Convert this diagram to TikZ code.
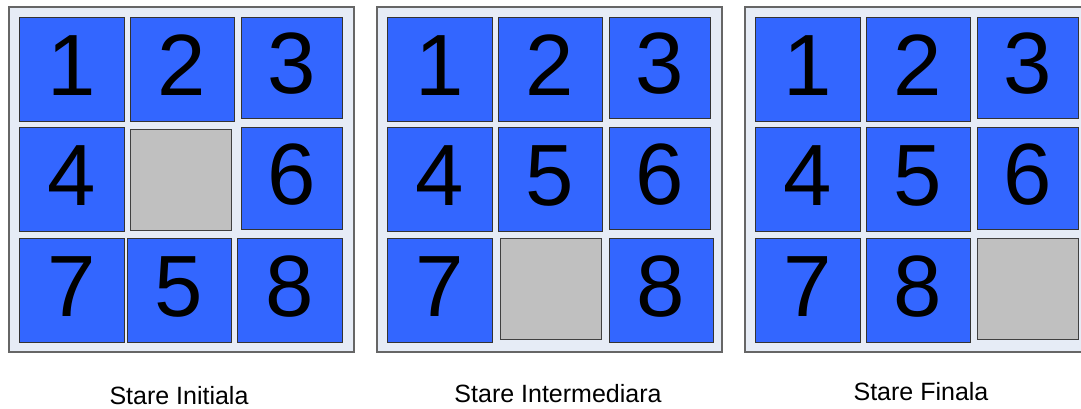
\documentclass[tikz,border=0pt]{standalone}
\usepackage{fontspec}
\setmainfont{Liberation Sans}
\definecolor{tileblue}{HTML}{3366FF}
\definecolor{boardbg}{HTML}{E6ECF6}
\definecolor{holegray}{HTML}{C0C0C0}

\tikzset{
  board/.style={draw=black!60, line width=1.2pt, fill=boardbg},
  tile/.style={draw=black!80, line width=0.8pt, fill=tileblue, inner sep=0pt,
    minimum width=104pt, minimum height=104pt,
    font=\fontsize{87}{87}\selectfont, text height=62pt, text depth=10pt},
  hole/.style={draw=black!75, line width=0.8pt, fill=holegray, inner sep=0pt,
    minimum width=101pt, minimum height=101pt},
  caption/.style={font=\fontsize{25}{25}\selectfont, anchor=base, inner sep=0pt}
}

\begin{document}
\begin{tikzpicture}[x=1pt,y=-1pt]
   \useasboundingbox (0,0) rectangle (1081,408);

   % First board - initial state
   \begin{scope}
       \draw[board] (9,7) rectangle (354,352);
       \foreach \n/\x/\y/\w/\h in {1/71.5/69/105/104, 2/182/69/104/104, 3/291.5/67.5/101/101,
                                   4/71.5/179/105/104, 6/291.5/178/101/102,
                                   7/71.5/290/105/104, 5/179/290/104/104, 8/289.5/290/105/104}
           \node[tile, minimum width=\w pt, minimum height=\h pt] (a\n) at (\x,\y) {\n};
       \node[hole] (a0) at (180.5,179.5) {};

       \node[caption] (capA) at (179,404.5) {Stare Initiala};
   \end{scope}

   % Second board - intermediate state
   \begin{scope}[xshift=368pt]
       \draw[board] (9,7) rectangle (354,352);
       \foreach \n/\x/\y/\w/\h in {1/71.5/69/105/104, 2/182/69/104/104, 3/291.5/67.5/101/101,
                                   4/71.5/179/105/104, 5/182/179/104/104, 6/291.5/178/101/102,
                                   7/71.5/290/105/104, 8/293/290/104/104}
           \node[tile, minimum width=\w pt, minimum height=\h pt] (b\n) at (\x,\y) {\n};
       \node[hole] (b0) at (182.5,288.5) {};

       \node[caption] (capB) at (190,402.5) {Stare Intermediara};
   \end{scope}

   % Third board - final state
   \begin{scope}[xshift=736pt]
       \draw[board] (9,7) rectangle (354,352);
       \foreach \n/\x/\y/\w/\h in {1/71.5/69/105/104, 2/182/69/104/104, 3/291.5/67.5/101/101,
                                   4/71.5/179/105/104, 5/182/179/104/104, 6/291.5/178/101/102,
                                   7/71.5/290/105/104, 8/182/290/104/104}
           \node[tile, minimum width=\w pt, minimum height=\h pt] (c\n) at (\x,\y) {\n};
       \node[hole] (c0) at (292,288.5) {};

       \node[caption] (capC) at (185,400) {Stare Finala};
   \end{scope}
\end{tikzpicture}
\end{document}
